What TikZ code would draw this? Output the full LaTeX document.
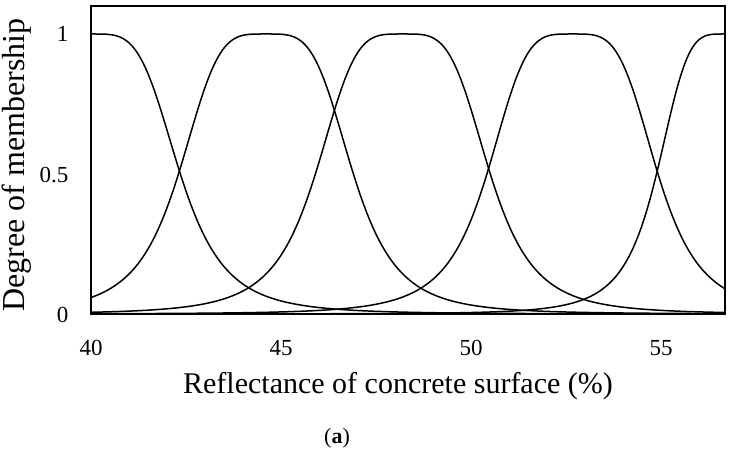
\documentclass[tikz,border=0pt]{standalone}
\usepackage{fontspec}
\setmainfont{Liberation Serif}
\begin{document}
\begin{tikzpicture}[x=1pt,y=-1pt,
  mf/.style={black,line width=1.5pt,smooth},
  tick/.style={font=\fontsize{23}{25}\selectfont}]
\useasboundingbox (0,0) rectangle (733,457);
\draw[line width=1.5pt] (91,6) rectangle (725,314);
\draw[line width=2.4pt] (91,314) -- (725,314);
\foreach \c/\a in {40/2.35,44.6/2.3,48.2/2.3,52.66/2.25,56.67/1.8}{
  \draw[mf] plot[domain=40:56.67,samples=220]
    ({91+38.03*(\x-40)},{314-280/(1+((\x-\c)/\a)*((\x-\c)/\a)*((\x-\c)/\a)*((\x-\c)/\a))});
}
\node[tick,anchor=east] (y1) at (72,34) {1};
\node[tick,anchor=east] (y05) at (72,175) {0.5};
\node[tick,anchor=east] (y0) at (72,315) {0};
\node[tick] (x40) at (91,348) {40};
\node[tick] (x45) at (281,348) {45};
\node[tick] (x50) at (471,348) {50};
\node[tick] (x55) at (661,348) {55};
\node[font=\fontsize{30}{34}\selectfont] (xl) at (398,386) {Reflectance of concrete surface (\%)};
\node[font=\fontsize{32}{36}\selectfont,rotate=90] (yl) at (17,165) {Degree of membership};
\node[font=\fontsize{22}{24}\selectfont] (cap) at (337,438) {(\textbf{a})};
\end{tikzpicture}
\end{document}
